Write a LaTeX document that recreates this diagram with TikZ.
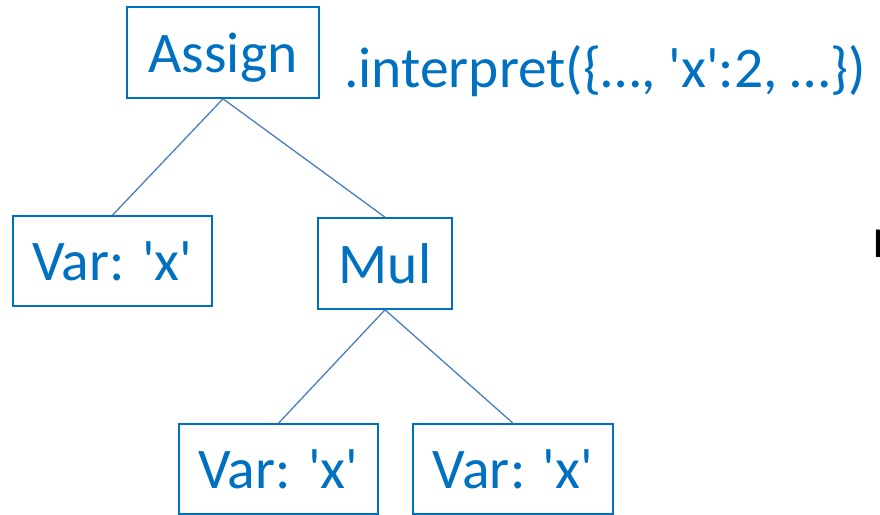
\documentclass[tikz,border=0pt]{standalone}
\usepackage{fontspec}
\setmainfont{Carlito}
\definecolor{boxblue}{HTML}{0070C0}
\definecolor{edgeblue}{HTML}{4A7EBB}
\newcommand{\sq}{\textquotesingle}
\newcommand{\bigtext}{\fontsize{57.5}{62}\selectfont}
\begin{document}
\begin{tikzpicture}[x=1pt,y=-1pt,
  astnode/.style={draw=boxblue, line width=1.6pt, text=boxblue, inner sep=0pt,
    font=\bigtext, rectangle, text height=39pt, text depth=0pt},
  edge/.style={draw=edgeblue, line width=1.3pt}]
\useasboundingbox (0,0) rectangle (880,514);
% tree nodes
\node[astnode, minimum width=192pt, minimum height=91pt] (assign) at (223,52.5) {Assign};
\node[astnode, minimum width=199pt, minimum height=90pt] (varl) at (112.5,261) {Var: \sq x\sq};
\node[astnode, minimum width=134pt, minimum height=91pt] (mul) at (385,263.5) {Mul};
\node[astnode, minimum width=199pt, minimum height=90pt] (varbl) at (278.5,469) {Var: \sq x\sq};
\node[astnode, minimum width=200pt, minimum height=90pt] (varbr) at (513,469) {Var: \sq x\sq};
% edges
\draw[edge] (assign.south) -- (varl.north);
\draw[edge] (assign.south) -- (mul.north);
\draw[edge] (mul.south) -- (varbl.north);
\draw[edge] (mul.south) -- (varbr.north);
% method call
\node[anchor=base west, inner sep=0pt, text=boxblue, font=\bigtext] (call) at (344,87) {.interpret(\{…, \sq x\sq:2, …\})};
\node[anchor=base west, inner sep=0pt, text=black, font=\bigtext] (rest) at (872,257) {n};
\end{tikzpicture}
\end{document}
